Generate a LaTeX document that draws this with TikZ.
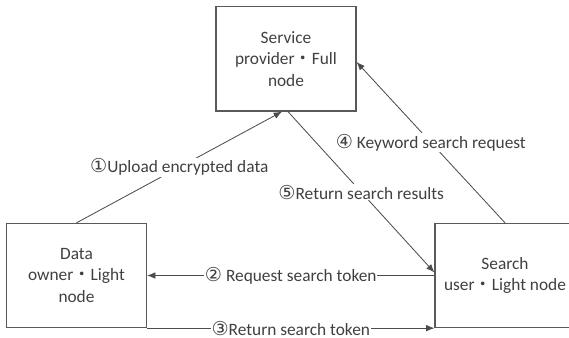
\documentclass[tikz,border=0pt]{standalone}
\usepackage{fontspec}
\setmainfont{Carlito}
\newfontfamily\cjk{Noto Sans CJK SC}
\newfontfamily\numfont{DejaVu Sans}
\newcommand{\stepno}[1]{{\numfont\fontsize{11.5}{12}\selectfont #1}}
\usetikzlibrary{arrows.meta,positioning,calc}

\begin{document}
\begin{tikzpicture}[x=0.6pt,y=-0.6pt,font=\fontsize{10.4}{13}\selectfont,text=black!75]

\tikzstyle{box} = [draw=black!65, line width=0.7pt, minimum width=84pt, minimum height=62.5pt, align=center, inner sep=2pt]
\tikzstyle{arr} = [draw=black!70, line width=0.5pt, -{Latex[length=5pt,width=4pt]}]
\tikzstyle{lbl} = [fill=white, inner sep=0.5pt]

\useasboundingbox (0,0) rectangle (569,338);

\node[box] (provider) at (286,59) {Service\\provider{\cjk ・}Full\\node};
\node[box] (owner) at (76.5,275.5) {Data\\owner{\cjk ・}Light\\node};
\node[box] (user) at (505,275.5) {Search\\user{\cjk ・}Light node};

\draw[arr] (owner.north) -- ($(provider.south)+(-4,0)$) node[midway,lbl]{\stepno{①}Upload encrypted data};
\draw[arr] (user.north) -- ($(provider.east)+(0,3)$) node[midway,lbl]{\stepno{④} Keyword search request};
\draw[arr] ($(provider.south)+(2,0)$) -- ($(user.west)+(0,-3)$) node[midway,lbl]{\stepno{⑤}Return search results};
\draw[arr] (user.west) -- (owner.east) node[midway,lbl]{\stepno{②} Request search token};
\draw[arr] (owner.south east) -- (user.south west) node[midway,lbl]{\stepno{③}Return search token};

\end{tikzpicture}
\end{document}
